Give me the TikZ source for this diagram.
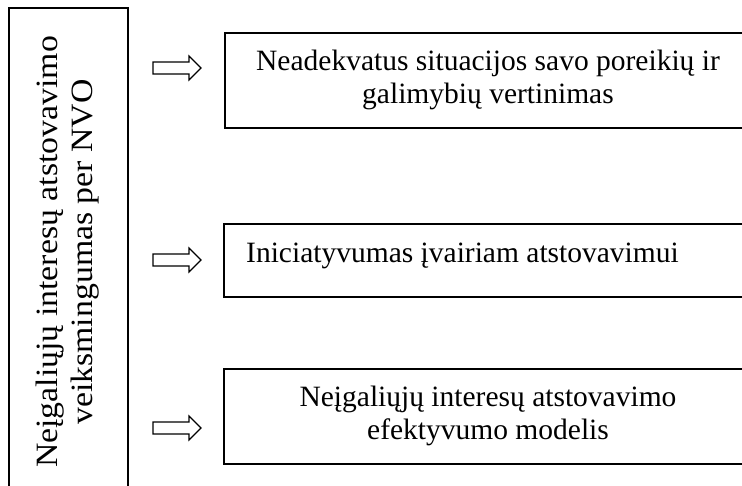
\documentclass[tikz,border=0pt]{standalone}
\usepackage{fontspec}
\setmainfont{Liberation Serif}
\newfontfamily\tallfont[FakeStretch=1.09]{Liberation Serif}

\tikzset{
  frame/.style={line width=1.6pt},
  hollow/.style={line width=1.2pt, line join=miter},
  txt/.style={font=\fontsize{29.5}{33}\selectfont, align=center, inner sep=0pt},
  sidetxt/.style={font=\tallfont\fontsize{31}{35}\selectfont, align=center, inner sep=0pt, rotate=90}
}

\begin{document}
\begin{tikzpicture}[x=1pt, y=-1pt]

		\useasboundingbox (0,0) rectangle (742,486);
		\clip (0,0) rectangle (742,486);

		% left column
		\draw [frame] (9,8) rectangle (128,500);
		\node [sidetxt] (Side) at (68,252) {Neįgaliųjų interesų atstovavimo\\veiksmingumas per NVO};

		% boxes on the right
		\draw [frame] (225,33) rectangle (760,128);
		\draw [frame] (224,224) rectangle (760,297);
		\draw [frame] (224,369) rectangle (760,464);

		\node [txt] (Box0) at (488,80) {Neadekvatus situacijos savo poreikių ir\\galimybių vertinimas};
		\node [txt, anchor=base west] (Box1) at (246,263) {Iniciatyvumas įvairiam atstovavimui};
		\node [txt] (Box2) at (488,416) {Neįgaliųjų interesų atstovavimo\\efektyvumo modelis};

		% hollow arrows
		\draw [hollow] (153,62) -- (189,62) -- (189,56) -- (201,68) -- (189,80) -- (189,74) -- (153,74) -- cycle;
		\draw [hollow] (153,254) -- (189,254) -- (189,248) -- (201,260) -- (189,272) -- (189,266) -- (153,266) -- cycle;
		\draw [hollow] (153,422) -- (189,422) -- (189,416) -- (201,428) -- (189,440) -- (189,434) -- (153,434) -- cycle;

\end{tikzpicture}
\end{document}
